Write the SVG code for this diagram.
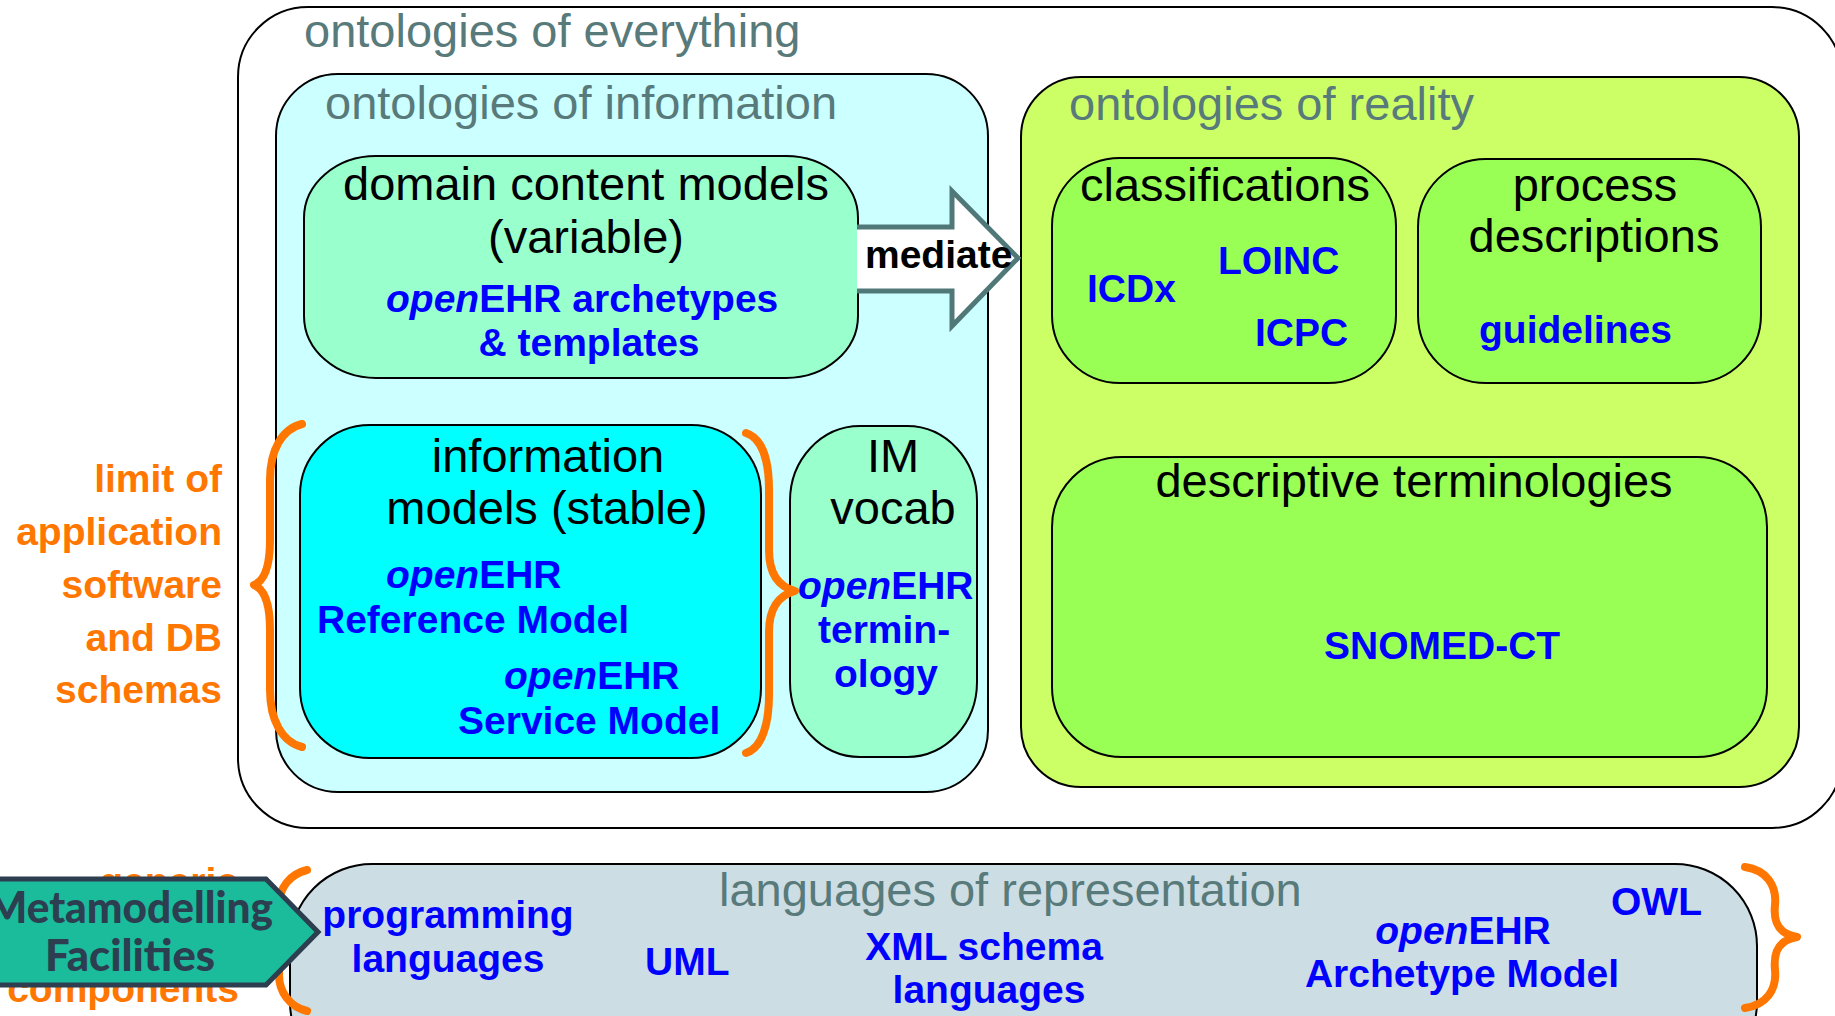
<svg xmlns="http://www.w3.org/2000/svg" width="1835" height="1016" viewBox="0 0 1835 1016">
<style>
.box{stroke:#000;stroke-width:2}
.title{font-family:"Liberation Sans",Arial,sans-serif;font-size:47px;fill:#587a7a}
.lbl{font-family:"Liberation Sans",Arial,sans-serif;font-size:47px;fill:#000}
.blue{font-family:"Liberation Sans",Arial,sans-serif;font-size:39px;font-weight:bold;fill:#0000ff}
.orange{font-family:"Liberation Sans",Arial,sans-serif;font-size:39px;font-weight:bold;fill:#ff7700;text-anchor:end}
.brace{fill:none;stroke:#ff7700;stroke-width:8;stroke-linecap:round;stroke-linejoin:round}
.mid{text-anchor:middle}
.it{font-style:italic}
</style>
<rect width="1835" height="1016" fill="#fff"/>

<g id="everything">
<rect class="box" x="238" y="7" width="1604" height="821" rx="70" ry="70" fill="#fff"/>
<text class="title" x="304" y="47">ontologies of everything</text>
</g>

<g id="information">
<rect class="box" x="276" y="74" width="712" height="718" rx="62" ry="62" fill="#ccffff"/>
<text class="title" x="325" y="119">ontologies of information</text>
</g>

<g id="reality">
<rect class="box" x="1021" y="77" width="778" height="710" rx="60" ry="60" fill="#ccff66"/>
<text class="title" x="1069" y="120">ontologies of reality</text>
</g>

<g id="domain-content-models">
<rect class="box" x="304" y="156" width="554" height="222" rx="72" ry="62" fill="#99ffcc"/>
<text class="lbl mid" x="586" y="200">domain content models</text>
<text class="lbl mid" x="586" y="253">(variable)</text>
<text class="blue" x="386" y="312"><tspan class="it">open</tspan>EHR archetypes</text>
<text class="blue mid" x="589" y="356">&amp; templates</text>
</g>

<g id="classifications">
<rect class="box" x="1052" y="158" width="344" height="225" rx="68" ry="68" fill="#99ff55"/>
<text class="lbl" x="1080" y="201">classifications</text>
<text class="blue" x="1218" y="274">LOINC</text>
<text class="blue" x="1087" y="302">ICDx</text>
<text class="blue" x="1255" y="346">ICPC</text>
</g>

<g id="process-descriptions">
<rect class="box" x="1418" y="159" width="343" height="224" rx="68" ry="68" fill="#99ff55"/>
<text class="lbl mid" x="1595" y="201">process</text>
<text class="lbl mid" x="1594" y="252">descriptions</text>
<text class="blue" x="1479" y="343">guidelines</text>
</g>

<g id="descriptive-terminologies">
<rect class="box" x="1052" y="457" width="715" height="300" rx="70" ry="70" fill="#99ff55"/>
<text class="lbl mid" x="1414" y="497">descriptive terminologies</text>
<text class="blue" x="1324" y="659">SNOMED-CT</text>
</g>

<g id="information-models">
<rect class="box" x="300" y="425" width="461" height="333" rx="70" ry="70" fill="#00ffff"/>
<text class="lbl mid" x="548" y="472">information</text>
<text class="lbl mid" x="547" y="524">models (stable)</text>
<text class="blue" x="386" y="588"><tspan class="it">open</tspan>EHR</text>
<text class="blue" x="317" y="633">Reference Model</text>
<text class="blue" x="504" y="689"><tspan class="it">open</tspan>EHR</text>
<text class="blue" x="458" y="734">Service Model</text>
</g>

<g id="im-vocab">
<rect class="box" x="790" y="426" width="187" height="331" rx="70" ry="75" fill="#99ffcc"/>
<text class="lbl mid" x="893" y="472">IM</text>
<text class="lbl mid" x="893" y="524">vocab</text>
<text class="blue" x="798" y="599"><tspan class="it">open</tspan>EHR</text>
<text class="blue" x="818" y="643">termin-</text>
<text class="blue" x="834" y="687">ology</text>
</g>

<g id="languages-of-representation">
<rect class="box" x="290" y="864" width="1467" height="220" rx="82" ry="82" fill="#ccdde4"/>
<text class="title" x="719" y="906">languages of representation</text>
<text class="blue mid" x="448" y="928">programming</text>
<text class="blue mid" x="448" y="972">languages</text>
<text class="blue" x="645" y="975">UML</text>
<text class="blue mid" x="984" y="960">XML schema</text>
<text class="blue mid" x="989" y="1003">languages</text>
<text class="blue" x="1611" y="915">OWL</text>
<text class="blue mid" x="1463" y="944"><tspan class="it">open</tspan>EHR</text>
<text class="blue mid" x="1462" y="987">Archetype Model</text>
</g>

<g id="connectors">
<path d="M857,227 L952,227 L952,191 L1018,258 L952,326 L952,291 L857,291" fill="#fff" stroke="#507878" stroke-width="5" stroke-linejoin="miter"/>
<text x="865" y="268" font-family="'Liberation Sans',Arial,sans-serif" font-size="39" font-weight="bold" fill="#000">mediate</text>
<path class="brace" d="M302,424 C282,429 270,450 270,480 L270,540 C270,568 264,581 254,585 C264,589 270,602 270,630 L270,690 C270,720 282,742 302,747"/>
<path class="brace" d="M746,433 C762,438 769,460 769,490 L769,550 C769,576 780,587 795,591 C780,595 769,606 769,632 L769,695 C769,724 762,748 746,753"/>
<path class="brace" d="M307,870 C290,874 279,888 279,905 L279,915 C279,930 275,937 269,940 C275,943 279,950 279,965 L279,975 C279,992 290,1007 307,1011"/>
<path class="brace" d="M1745,867 C1766,870 1777,885 1775,905 C1773,924 1780,934 1797,937 C1780,940 1773,950 1775,970 C1777,990 1766,1005 1745,1008"/>
</g>

<g id="limit-label">
<text class="orange" x="222" y="492">limit of</text>
<text class="orange" x="222" y="545">application</text>
<text class="orange" x="222" y="598">software</text>
<text class="orange" x="222" y="651">and DB</text>
<text class="orange" x="222" y="703">schemas</text>
</g>

<g id="generic-label">
<text class="orange" x="238" y="895">generic</text>
<text class="orange" x="239" y="1002">components</text>
</g>

<g id="metamodelling-facilities">
<polygon points="-5,879 266,879 318,932 266,985 -5,985" fill="#1abc9c" stroke="#2c3e50" stroke-width="5" stroke-linejoin="miter"/>
<text x="130" y="923" text-anchor="middle" font-family="Lato,'Open Sans',sans-serif" font-size="43" font-weight="900" fill="#2c3e50" textLength="286" lengthAdjust="spacingAndGlyphs">Metamodelling</text>
<text x="130" y="971" text-anchor="middle" font-family="Lato,'Open Sans',sans-serif" font-size="43" font-weight="900" fill="#2c3e50" textLength="170" lengthAdjust="spacingAndGlyphs">Facilities</text>
</g>
</svg>
